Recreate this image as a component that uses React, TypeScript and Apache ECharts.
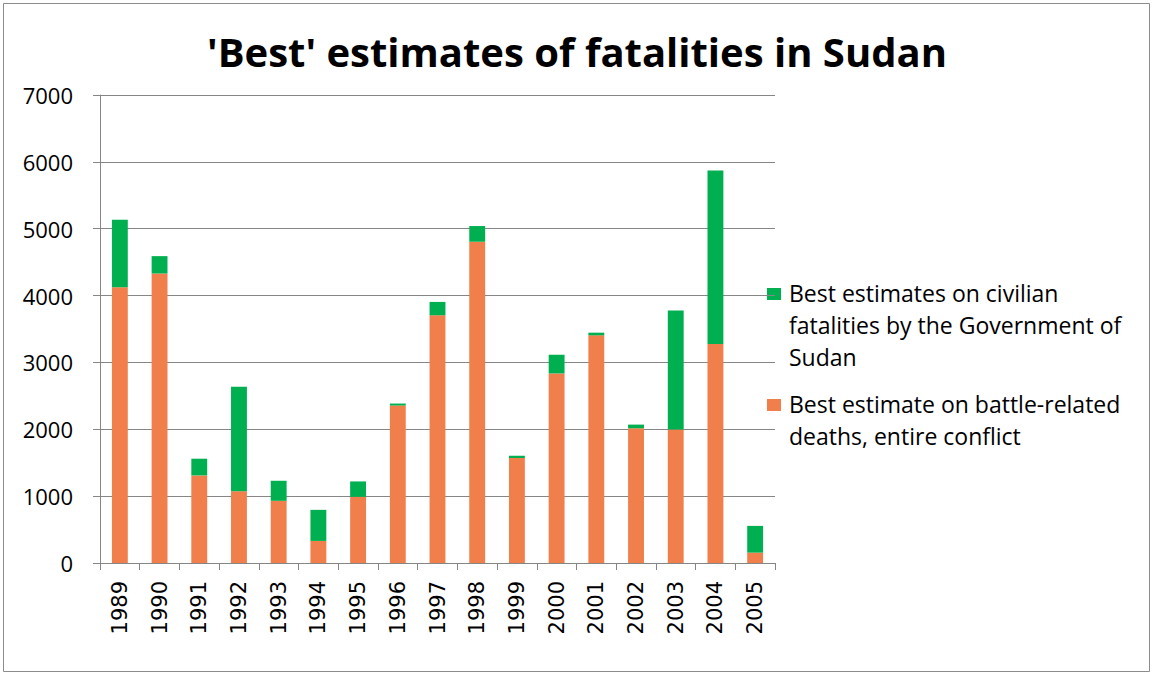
import React, { useEffect, useRef } from "react";
import * as echarts from "echarts";

const years = ["1989","1990","1991","1992","1993","1994","1995","1996","1997","1998","1999","2000","2001","2002","2003","2004","2005"];
const battleDeaths = [4125, 4330, 1310, 1075, 930, 330, 990, 2355, 3705, 4805, 1570, 2835, 3405, 2015, 1995, 3275, 155];
const civilianDeaths = [1010, 260, 250, 1560, 300, 465, 230, 30, 200, 235, 35, 280, 40, 55, 1780, 2595, 400];
const yTicks = { min: 0, max: 7000, interval: 1000 };

const nameCivil = "Best estimates on civilian fatalities by the Government of Sudan";
const nameBattle = "Best estimate on battle-related deaths, entire conflict";
const legendCivilText = "Best estimates on civilian\nfatalities by the Government of\nSudan";
const legendBattleText = "Best estimate on battle-related\ndeaths, entire conflict";

const GREEN = "#00B050";
const ORANGE = "#F07F4C";
const FONT = "'Open Sans', sans-serif";
const XFONT = "'DejaVu Sans', sans-serif";

export default function App() {
  const ref = useRef<HTMLDivElement>(null);
  useEffect(() => {
    if (!ref.current) return;
    const chart = echarts.init(ref.current, undefined, { renderer: "svg" });
    chart.setOption({
      animation: false,
      textStyle: { fontFamily: FONT },
      title: {
        text: "'Best' estimates of fatalities in Sudan",
        left: "center",
        top: 26,
        textStyle: { fontSize: 40, fontWeight: "bold", color: "#000", fontFamily: FONT },
      },
      grid: { left: 100, right: 379, top: 95, bottom: 112, containLabel: false },
      legend: { show: false },
      xAxis: {
        type: "category",
        data: years,
        axisLine: { lineStyle: { color: "#868686", width: 1 } },
        axisTick: { show: true, length: 7, alignWithLabel: false, lineStyle: { color: "#868686" } },
        axisLabel: { rotate: 90, fontSize: 21, color: "#000", margin: 18, fontFamily: XFONT },
      },
      yAxis: {
        type: "value",
        min: yTicks.min,
        max: yTicks.max,
        interval: yTicks.interval,
        axisLine: { show: true, lineStyle: { color: "#868686", width: 1 } },
        axisTick: { show: true, length: 7, lineStyle: { color: "#868686" } },
        axisLabel: { fontSize: 22, color: "#000", margin: 27, fontFamily: FONT, formatter: (v: number) => String(v) },
        splitLine: { show: true, lineStyle: { color: "#868686", width: 1 } },
      },
      graphic: [
        {
          type: "rect",
          shape: { x: 3.5, y: 3.5, width: 1146, height: 668 },
          style: { fill: "none", stroke: "#8c8c8c", lineWidth: 1 },
          silent: true,
        },
        { type: "rect", shape: { x: 767, y: 288, width: 14, height: 12 }, style: { fill: GREEN } },
        {
          type: "text",
          x: 789,
          y: 277,
          style: { text: legendCivilText, fontSize: 23, lineHeight: 32, fontFamily: FONT, fill: "#000", verticalAlign: "top" },
        },
        { type: "rect", shape: { x: 767, y: 399, width: 14, height: 12 }, style: { fill: ORANGE } },
        {
          type: "text",
          x: 789,
          y: 388,
          style: { text: legendBattleText, fontSize: 23, lineHeight: 32, fontFamily: FONT, fill: "#000", verticalAlign: "top" },
        },
      ],
      series: [
        {
          name: nameBattle,
          type: "bar",
          stack: "total",
          data: battleDeaths,
          barWidth: "40%",
          itemStyle: { color: ORANGE },
        },
        {
          name: nameCivil,
          type: "bar",
          stack: "total",
          data: civilianDeaths,
          barWidth: "40%",
          itemStyle: { color: GREEN },
        },
      ],
    });
    return () => chart.dispose();
  }, []);
  return (
    <div
      ref={ref}
      style={{ position: "fixed", left: 0, top: 0, width: 1154, height: 675, background: "#fff" }}
    />
  );
}
